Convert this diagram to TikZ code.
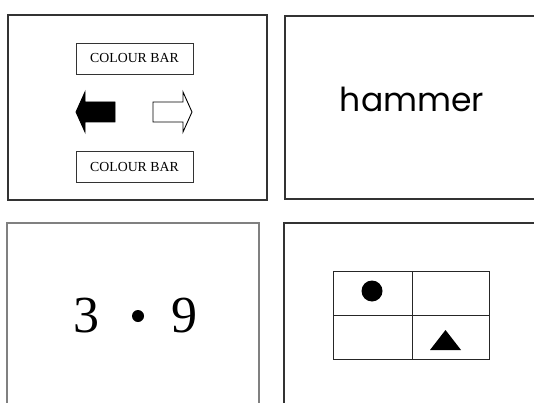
\documentclass[tikz,border=0pt]{standalone}
\usepackage{fontspec}
\setmainfont{Liberation Serif}
\newfontfamily\wordfont{Poppins}
\usepackage{tikz}
\usetikzlibrary{positioning,calc}
\colorlet{framegray}{black!80}
\colorlet{palegray}{black!50}
\tikzset{
  frame/.style={draw=framegray, line width=1.1pt},
  paleframe/.style={draw=palegray, line width=1.1pt},
  barbox/.style={draw=black!80, line width=0.9pt, minimum width=117pt,
    minimum height=31pt, inner sep=0pt, font=\fontsize{13.8}{14}\selectfont},
  cue/.style={draw=black, line width=0.9pt, line join=miter},
  word/.style={inner sep=0pt, font=\wordfont\fontsize{33}{36}\selectfont},
  digit/.style={inner sep=0pt, font=\fontsize{52}{56}\selectfont},
  dot/.style={circle, fill=black, inner sep=0pt, minimum size=12pt},
  grid/.style={draw=black!85, line width=1pt},
}
\begin{document}
\begin{tikzpicture}[x=1pt,y=-1pt]
\useasboundingbox (0,0) rectangle (534,403);
% top left: colour bars and arrow cues
\draw[frame] (8,15) rectangle (267,200);
\node[barbox] (topbar) at (134.5,58.5) {COLOUR BAR};
\node[barbox] (lowbar) at (134.5,167) {COLOUR BAR};
\draw[cue, fill=black] (76,112) -- (85,92) -- (85,102) -- (115,102) -- (115,122)
  -- (85,122) -- (85,132) -- cycle;
\draw[cue, fill=white] (192,112) -- (183,92) -- (183,102) -- (153,102) -- (153,122)
  -- (183,122) -- (183,132) -- cycle;
% top right: word
\draw[frame] (534,16) -- (285,16) -- (285,199) -- (534,199);
\node[word, anchor=base] (target) at (412,112) {hammer};
% bottom left: digits
\draw[paleframe] (7,403) -- (7,223) -- (259,223) -- (259,403);
\node[digit, anchor=base] (left) at (86.5,332) {3};
\node[dot] (mid) at (138,316) {};
\node[digit, anchor=base] (right) at (184.5,332) {9};
% bottom right: grid with shapes
\draw[frame] (284,403) -- (284,223) -- (534,223);
\draw[grid] (333,271) rectangle (489,359);
\draw[grid] (412,271) -- (412,359);
\draw[grid] (333,315) -- (489,315);
\fill (372,291) circle (10.5);
\fill (430,350) -- (461,350) -- (445.5,330) -- cycle;
\end{tikzpicture}
\end{document}
